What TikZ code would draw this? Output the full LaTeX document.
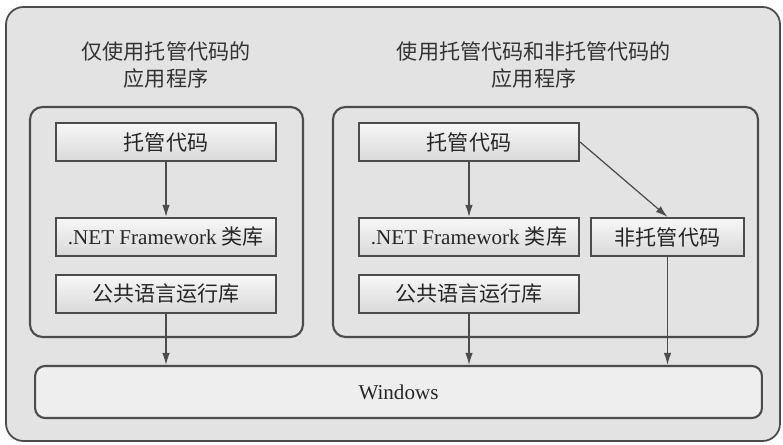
\documentclass[tikz,border=0pt]{standalone}
\usepackage{fontspec}
\setmainfont{Liberation Serif}
\newfontfamily\cjk{Noto Sans CJK SC}
\usepackage{tikz}
\usetikzlibrary{arrows,arrows.meta,calc}
\usetikzlibrary{positioning}
\definecolor{linegray}{rgb}{0.30,0.30,0.30}
\definecolor{paper}{rgb}{0.89,0.89,0.89}

\begin{document}
\begin{tikzpicture}[x=0.02cm,y=-0.02cm]
\tikzstyle{codebox}=[rectangle,draw=linegray,line width=1.2pt,top color=gray!6,bottom color=gray!30,minimum width=4.4cm,minimum height=0.76cm,inner sep=0pt,font=\fontsize{12}{14}\selectfont,text=black!85]
\tikzstyle{groupbox}=[draw=linegray,line width=1.2pt,rounded corners=0.25cm]
\tikzstyle{title}=[align=center,font=\cjk\fontsize{12}{15}\selectfont,text=black!80]
\tikzstyle{link}=[->,>={Latex[length=0.24cm,width=0.15cm]},draw=linegray,line width=0.7pt]

\useasboundingbox (0,0) rectangle (783,445);

%FRAME
\draw[draw=linegray,line width=1pt,fill=paper,rounded corners=0.35cm] (6,7) rectangle (780,441);

%GROUPS
\draw[groupbox] (30,107) rectangle (303,337);
\draw[groupbox] (333,107) rectangle (758,337);

\node[title] (titleL) at (166,65) {仅使用托管代码的\\应用程序};
\node[title] (titleR) at (534,65) {使用托管代码和非托管代码的\\应用程序};

%%%%%%%%%%%%%%%%%%%%%%%%%%%%%%%%%%%%%%%%%%%%%%%%%%%%%%%%%%%%%%%%%%%%%%%%
%left
\node[codebox] (mcodeL) at (166,142) {\cjk 托管代码};
\node[codebox] (libL) at (166,237) {.NET Framework \cjk 类库};
\node[codebox] (clrL) at (166,294) {\cjk 公共语言运行库};

%right
\node[codebox] (mcodeR) at (469,142) {\cjk 托管代码};
\node[codebox] (libR) at (469,237) {.NET Framework \cjk 类库};
\node[codebox] (clrR) at (469,294) {\cjk 公共语言运行库};
\node[codebox,minimum width=3.06cm] (umcode) at (667.5,237) {\cjk 非托管代码};

%%%%%%%%%%%%%%%%%%%%%%%%%%%%%%%%%%%%%%%%%%%%%%%%%%%%%%%%%%%%%%%%%%%%%%%%
%windows
\node[rectangle,draw=linegray,line width=1.2pt,fill=gray!13,rounded corners=0.2cm,minimum width=14.54cm,minimum height=1.04cm,inner sep=0pt,font=\fontsize{12}{14}\selectfont,text=black!85] (win) at (398.5,392) {Windows};

%%%%%%%%%%%%%%%%%%%%%%%%%%%%%%%%%%%%%%%%%%%%%%%%%%%%%%%%%%%%%%%%%%%%%%%%
%ARROWS
\draw[link] (mcodeL) -- (libL);
\draw[link] (clrL.south) -- (clrL.south |- win.north);

\draw[link] (mcodeR) -- (libR);
\draw[link] (mcodeR.east) -- (umcode.north);
\draw[link] (clrR.south) -- (clrR.south |- win.north);
\draw[link] (umcode.south) -- (umcode.south |- win.north);

\end{tikzpicture}
\end{document}
